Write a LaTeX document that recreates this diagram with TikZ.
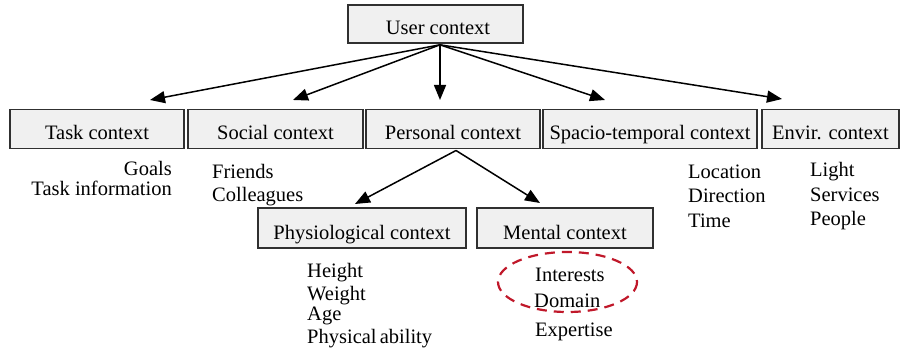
\documentclass[tikz,border=0pt]{standalone}
\usepackage{fontspec}
\setmainfont{Liberation Serif}
\usetikzlibrary{arrows.meta}
\definecolor{boxfill}{HTML}{F0F0F0}
\definecolor{boxline}{HTML}{303030}
\definecolor{dashred}{HTML}{C0182A}
\begin{document}
\begin{tikzpicture}[x=1pt,y=-1pt,
  every node/.style={font=\fontsize{20.5}{24}\selectfont},
  ctxbox/.style={draw=boxline, fill=boxfill, line width=1.6pt, inner sep=0pt, anchor=south},
  rowone/.style={text height=29.5pt, text depth=9.5pt},
  rowtwo/.style={text height=31pt, text depth=9pt},
  lbl/.style={inner sep=0pt, anchor=base west},
  lblr/.style={inner sep=0pt, anchor=base east},
  arr/.style={line width=1.5pt, -{Triangle[length=15pt,width=12pt]}}]
\useasboundingbox (0,0) rectangle (901,352);
% boxes (anchored at bottom centre)
\node[ctxbox, minimum width=175pt, text height=29pt, text depth=9pt] (user) at (435.5,44) {\hspace{5pt}User context};
\node[ctxbox, rowone, minimum width=174pt] (task) at (97,149.5) {Task context};
\node[ctxbox, rowone, minimum width=175pt] (social) at (275.5,149.5) {Social context};
\node[ctxbox, rowone, minimum width=174pt] (personal) at (453,149.5) {Personal context};
\node[ctxbox, rowone, minimum width=214pt] (spacio) at (650,149.5) {Spacio-temporal context};
\node[ctxbox, rowone, minimum width=137pt] (envir) at (830.5,149.5) {Envir. context};
\node[ctxbox, rowtwo, minimum width=208pt] (physio) at (362,249) {Physiological context};
\node[ctxbox, rowtwo, minimum width=176pt] (mental) at (565,249) {Mental context};
% connector points
\coordinate (us) at (440,44.8);
\coordinate (tTask) at (150,100);
\coordinate (tSocial) at (293,100);
\coordinate (tPers) at (440,100);
\coordinate (tSpacio) at (605,100);
\coordinate (tEnvir) at (782,99);
\coordinate (ps) at (456,150.5);
\coordinate (tPhys) at (355,204);
\coordinate (tMent) at (540,203);
\draw[arr] (us) -- (tTask);
\draw[arr] (us) -- (tSocial);
\draw[arr] (us) -- (tPers);
\draw[arr] (us) -- (tSpacio);
\draw[arr] (us) -- (tEnvir);
\draw[arr] (ps) -- (tPhys);
\draw[arr] (ps) -- (tMent);
% labels
\node[lblr] (goals) at (172,176) {Goals};
\node[lblr] (taskinfo) at (172,196) {Task information};
\node[lbl] (friends) at (212,179) {Friends};
\node[lbl] (colleagues) at (212,202) {Colleagues};
\node[lbl] (location) at (688,179) {Location};
\node[lbl] (direction) at (688,203) {Direction};
\node[lbl] (time) at (688,228) {Time};
\node[lbl] (light) at (810,177) {Light};
\node[lbl] (services) at (810,202) {Services};
\node[lbl] (people) at (810,226) {People};
\node[lbl] (height) at (307,278) {Height};
\node[lbl] (weight) at (307,300) {Weight};
\node[lbl] (age) at (307,320) {Age};
\node[lbl] (physab) at (307,343) {Physical\hspace{-2pt} ability};
\node[lbl] (interests) at (535,282) {Interests};
\node[lbl] (domain) at (534,307) {Domain};
\node[lbl] (expertise) at (535,336) {Expertise};
\draw[dashred, line width=2.2pt, dash pattern=on 10pt off 7pt] (567.5,282) ellipse [x radius=69.5, y radius=30];
\end{tikzpicture}
\end{document}
